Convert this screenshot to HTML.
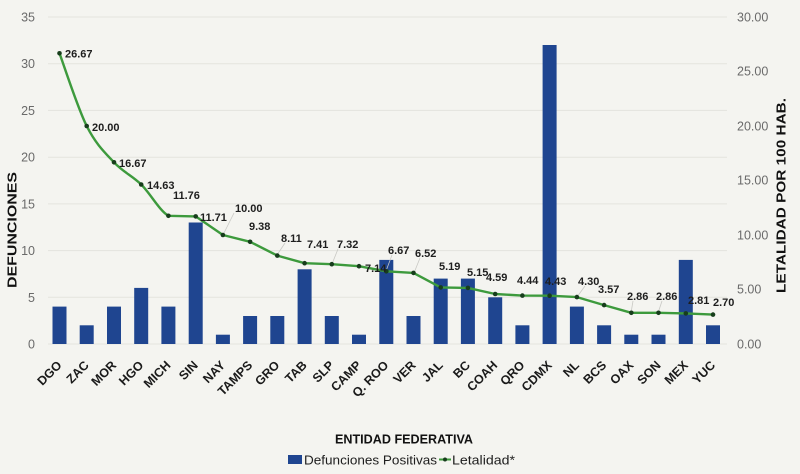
<!DOCTYPE html>
<html><head><meta charset="utf-8"><style>
html,body{margin:0;padding:0;background:#f4f4f0;}
svg{display:block;}
.tk{font-family:"Liberation Sans",sans-serif;font-size:12.5px;fill:#6a6a6a;}
.xl{font-family:"Liberation Sans",sans-serif;font-size:12.5px;font-weight:bold;fill:#1a1a1a;}
.dl{font-family:"Liberation Sans",sans-serif;font-size:11px;font-weight:bold;fill:#1e1e1e;}
.ti{font-family:"Liberation Sans",sans-serif;font-size:12.5px;font-weight:bold;fill:#111;}
.lg{font-family:"Liberation Sans",sans-serif;font-size:12.5px;fill:#1e1e1e;}
</style></head><body>
<svg width="800" height="474" viewBox="0 0 800 474" xmlns="http://www.w3.org/2000/svg">
<rect width="800" height="474" fill="#f4f4f0"/>
<g stroke="#e3e3de" stroke-width="1">
<line x1="48" y1="17" x2="727" y2="17"/>
<line x1="48" y1="63.7" x2="727" y2="63.7"/>
<line x1="48" y1="110.4" x2="727" y2="110.4"/>
<line x1="48" y1="157.2" x2="727" y2="157.2"/>
<line x1="48" y1="203.9" x2="727" y2="203.9"/>
<line x1="48" y1="250.6" x2="727" y2="250.6"/>
<line x1="48" y1="297.3" x2="727" y2="297.3"/>
<line x1="48" y1="344" x2="727" y2="344"/>
</g>
<g class="tk" text-anchor="end">
<text x="35" y="21.5">35</text>
<text x="35" y="68">30</text>
<text x="35" y="115">25</text>
<text x="35" y="161.5">20</text>
<text x="35" y="208.5">15</text>
<text x="35" y="255">10</text>
<text x="35" y="302">5</text>
<text x="35" y="348.5">0</text>
</g>
<g class="tk">
<text x="737" y="21.5">30.00</text>
<text x="737" y="75.5">25.00</text>
<text x="737" y="130.5">20.00</text>
<text x="737" y="184.5">15.00</text>
<text x="737" y="239.5">10.00</text>
<text x="737" y="293.5">5.00</text>
<text x="737" y="348.5">0.00</text>
</g>
<g fill="#1f4590">
<rect x="52.5" y="306.6" width="14" height="37.4"/>
<rect x="79.7" y="325.3" width="14" height="18.7"/>
<rect x="107" y="306.6" width="14" height="37.4"/>
<rect x="134.2" y="287.9" width="14" height="56.1"/>
<rect x="161.4" y="306.6" width="14" height="37.4"/>
<rect x="188.7" y="222.5" width="14" height="121.5"/>
<rect x="215.9" y="334.7" width="14" height="9.3"/>
<rect x="243.1" y="316" width="14" height="28"/>
<rect x="270.3" y="316" width="14" height="28"/>
<rect x="297.6" y="269.3" width="14" height="74.7"/>
<rect x="324.8" y="316" width="14" height="28"/>
<rect x="352" y="334.7" width="14" height="9.3"/>
<rect x="379.3" y="259.9" width="14" height="84.1"/>
<rect x="406.5" y="316" width="14" height="28"/>
<rect x="433.7" y="278.6" width="14" height="65.4"/>
<rect x="460.9" y="278.6" width="14" height="65.4"/>
<rect x="488.2" y="297.3" width="14" height="46.7"/>
<rect x="515.4" y="325.3" width="14" height="18.7"/>
<rect x="542.6" y="45" width="14" height="299"/>
<rect x="569.9" y="306.6" width="14" height="37.4"/>
<rect x="597.1" y="325.3" width="14" height="18.7"/>
<rect x="624.3" y="334.7" width="14" height="9.3"/>
<rect x="651.5" y="334.7" width="14" height="9.3"/>
<rect x="678.8" y="259.9" width="14" height="84.1"/>
<rect x="706" y="325.3" width="14" height="18.7"/>
</g>
<g stroke="#c9c9c4" stroke-width="0.8" fill="none">
<line x1="223" y1="235" x2="234" y2="213"/>
<line x1="277" y1="255" x2="285" y2="243"/>
<line x1="332" y1="264" x2="338" y2="249"/>
<line x1="386" y1="271" x2="392" y2="255"/>
<line x1="414" y1="273" x2="420" y2="258"/>
<line x1="577" y1="297" x2="585" y2="286"/>
<line x1="631" y1="313" x2="633" y2="301"/>
<line x1="658" y1="313" x2="662" y2="301"/>
</g>
<path d="M59.5,53.3 C64,65.4 77.6,107.8 86.7,126 C95.8,144.2 104.9,152.6 114,162.3 C123.1,172.1 132.1,175.6 141.2,184.5 C150.3,193.4 159.3,210.5 168.4,215.8 L195.7,216.4 L222.9,235 L250.1,241.8 L277.3,255.6 L304.6,263.2 L331.8,264.2 L359,266.2 L386.3,271.3 L413.5,272.9 L440.7,287.4 L467.9,287.9 L495.2,294 L522.4,295.6 L549.6,295.7 L576.9,297.1 L604.1,305.1 L631.3,312.8 L658.5,312.8 L685.8,313.4 L713,314.6" fill="none" stroke="#3d9a3d" stroke-width="2.4" stroke-linejoin="round"/>
<g fill="#173d1c">
<circle cx="59.5" cy="53.3" r="2.3"/><circle cx="86.7" cy="126" r="2.3"/><circle cx="114" cy="162.3" r="2.3"/><circle cx="141.2" cy="184.5" r="2.3"/><circle cx="168.4" cy="215.8" r="2.3"/><circle cx="195.7" cy="216.4" r="2.3"/><circle cx="222.9" cy="235" r="2.3"/><circle cx="250.1" cy="241.8" r="2.3"/><circle cx="277.3" cy="255.6" r="2.3"/><circle cx="304.6" cy="263.2" r="2.3"/><circle cx="331.8" cy="264.2" r="2.3"/><circle cx="359" cy="266.2" r="2.3"/><circle cx="386.3" cy="271.3" r="2.3"/><circle cx="413.5" cy="272.9" r="2.3"/><circle cx="440.7" cy="287.4" r="2.3"/><circle cx="467.9" cy="287.9" r="2.3"/><circle cx="495.2" cy="294" r="2.3"/><circle cx="522.4" cy="295.6" r="2.3"/><circle cx="549.6" cy="295.7" r="2.3"/><circle cx="576.9" cy="297.1" r="2.3"/><circle cx="604.1" cy="305.1" r="2.3"/><circle cx="631.3" cy="312.8" r="2.3"/><circle cx="658.5" cy="312.8" r="2.3"/><circle cx="685.8" cy="313.4" r="2.3"/><circle cx="713" cy="314.6" r="2.3"/>
</g>
<g class="dl">
<text x="65" y="57.5">26.67</text>
<text x="92" y="131">20.00</text>
<text x="119" y="167">16.67</text>
<text x="147" y="189">14.63</text>
<text x="173" y="199">11.76</text>
<text x="200" y="221">11.71</text>
<text x="235" y="212">10.00</text>
<text x="249" y="230">9.38</text>
<text x="281" y="242">8.11</text>
<text x="307" y="248">7.41</text>
<text x="337" y="248">7.32</text>
<text x="365" y="272">7.14</text>
<text x="388" y="254">6.67</text>
<text x="415" y="257">6.52</text>
<text x="439" y="270">5.19</text>
<text x="467" y="276">5.15</text>
<text x="486" y="281">4.59</text>
<text x="517" y="284">4.44</text>
<text x="545" y="285">4.43</text>
<text x="578" y="285">4.30</text>
<text x="598" y="293">3.57</text>
<text x="627" y="300">2.86</text>
<text x="656" y="300">2.86</text>
<text x="688" y="304">2.81</text>
<text x="713" y="306">2.70</text>
</g>
<g class="xl" text-anchor="end">
<text transform="translate(62.5,366) rotate(-45)">DGO</text>
<text transform="translate(89.7,366) rotate(-45)">ZAC</text>
<text transform="translate(117,366) rotate(-45)">MOR</text>
<text transform="translate(144.2,366) rotate(-45)">HGO</text>
<text transform="translate(171.4,366) rotate(-45)">MICH</text>
<text transform="translate(198.7,366) rotate(-45)">SIN</text>
<text transform="translate(225.9,366) rotate(-45)">NAY</text>
<text transform="translate(253.1,366) rotate(-45)">TAMPS</text>
<text transform="translate(280.3,366) rotate(-45)">GRO</text>
<text transform="translate(307.6,366) rotate(-45)">TAB</text>
<text transform="translate(334.8,366) rotate(-45)">SLP</text>
<text transform="translate(362,366) rotate(-45)">CAMP</text>
<text transform="translate(389.3,366) rotate(-45)">Q. ROO</text>
<text transform="translate(416.5,366) rotate(-45)">VER</text>
<text transform="translate(443.7,366) rotate(-45)">JAL</text>
<text transform="translate(470.9,366) rotate(-45)">BC</text>
<text transform="translate(498.2,366) rotate(-45)">COAH</text>
<text transform="translate(525.4,366) rotate(-45)">QRO</text>
<text transform="translate(552.6,366) rotate(-45)">CDMX</text>
<text transform="translate(579.9,366) rotate(-45)">NL</text>
<text transform="translate(607.1,366) rotate(-45)">BCS</text>
<text transform="translate(634.3,366) rotate(-45)">OAX</text>
<text transform="translate(661.5,366) rotate(-45)">SON</text>
<text transform="translate(688.8,366) rotate(-45)">MEX</text>
<text transform="translate(716,366) rotate(-45)">YUC</text>
</g>
<text class="ti" transform="translate(16.5,230) rotate(-90)" text-anchor="middle" textLength="116" lengthAdjust="spacingAndGlyphs">DEFUNCIONES</text>
<text class="ti" transform="translate(785.5,195.5) rotate(-90)" text-anchor="middle" textLength="195" lengthAdjust="spacingAndGlyphs">LETALIDAD POR 100 HAB.</text>
<text class="ti" x="335" y="443.5" textLength="138" lengthAdjust="spacingAndGlyphs">ENTIDAD FEDERATIVA</text>
<rect x="288" y="455" width="14" height="9" fill="#1f4590"/>
<text class="lg" x="304" y="464.5" textLength="133" lengthAdjust="spacingAndGlyphs">Defunciones Positivas</text>
<line x1="439" y1="459.5" x2="451" y2="459.5" stroke="#3d9a3d" stroke-width="2"/>
<circle cx="445" cy="459.5" r="2" fill="#173d1c"/>
<text class="lg" x="452" y="464.5" textLength="63" lengthAdjust="spacingAndGlyphs">Letalidad*</text>
</svg>
</body></html>
